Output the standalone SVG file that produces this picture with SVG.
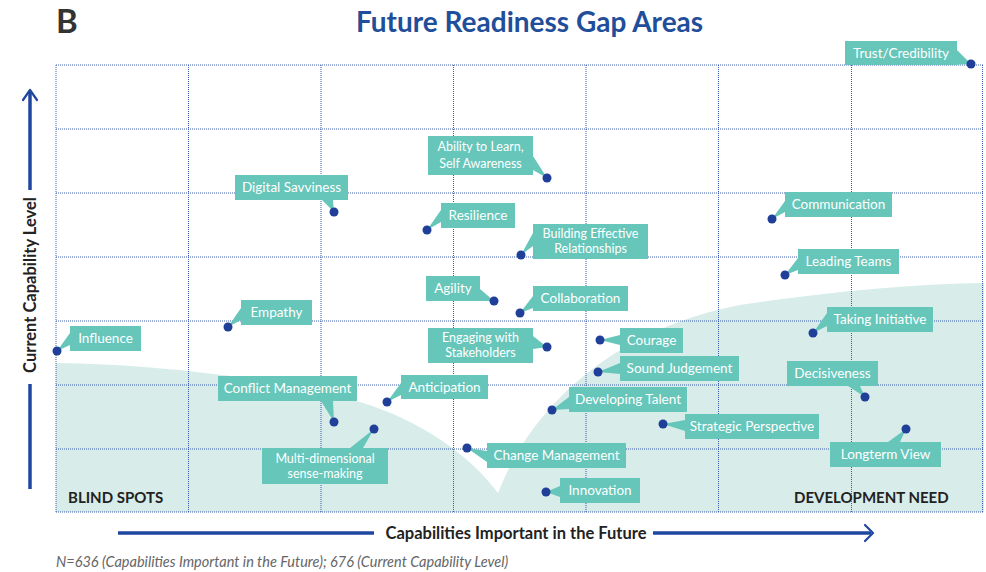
<svg xmlns="http://www.w3.org/2000/svg" width="986" height="572" viewBox="0 0 986 572">
<style>
  .grid line { stroke: #3b5cae; stroke-width: 1; stroke-dasharray: 1 1; }
  .box { fill: #66c6ba; }
  .ptr { fill: #66c6ba; }
  .lt { fill: #ffffff; font-family: Lato, "Open Sans", sans-serif; font-size: 13.5px; text-anchor: middle; }
  .lt2 { fill: #ffffff; font-family: Lato, "Open Sans", sans-serif; font-size: 12.5px; text-anchor: middle; }
  .dot { fill: #1f3f99; }
  .axis { stroke: #1f47a0; stroke-width: 3.5; fill: none; }
  .chev { stroke: #1f47a0; stroke-width: 2.2; fill: none; stroke-linecap: round; stroke-linejoin: round; }
  .axt { fill: #222; font-family: Lato, "Open Sans", sans-serif; font-weight: bold; font-size: 16.5px; }
  .zone { fill: #222; font-family: Lato, "Open Sans", sans-serif; font-weight: bold; font-size: 15px; }
</style>
<rect width="986" height="572" fill="#ffffff"/>
<text x="56" y="33" font-family="Lato, 'Open Sans', sans-serif" font-weight="bold" font-size="33" fill="#333">B</text>
<text x="529.5" y="32" font-family="Lato, 'Open Sans', sans-serif" font-weight="bold" font-size="28" fill="#1f4e9a" text-anchor="middle">Future Readiness Gap Areas</text>

<path d="M56,363 C150,364 280,378 360,402 C420,420 470,455 498,493 C530,410 610,330 740,305 C840,290 920,284 984,283 L984,512 L56,512 Z" fill="#d8ede9"/>

<g id="grid" class="grid">
  <line x1="56" y1="65" x2="983" y2="65"/>
  <line x1="56" y1="129" x2="983" y2="129"/>
  <line x1="56" y1="193" x2="983" y2="193"/>
  <line x1="56" y1="257" x2="983" y2="257"/>
  <line x1="56" y1="321" x2="983" y2="321"/>
  <line x1="56" y1="385" x2="983" y2="385"/>
  <line x1="56" y1="449" x2="983" y2="449"/>
  <line x1="56" y1="512" x2="983" y2="512"/>
  <line x1="56" y1="65" x2="56" y2="512"/>
  <line x1="188.5" y1="65" x2="188.5" y2="512"/>
  <line x1="321" y1="65" x2="321" y2="512"/>
  <line x1="453.5" y1="65" x2="453.5" y2="512"/>
  <line x1="586" y1="65" x2="586" y2="512"/>
  <line x1="718.5" y1="65" x2="718.5" y2="512"/>
  <line x1="851.5" y1="65" x2="851.5" y2="512"/>
  <line x1="982.5" y1="65" x2="982.5" y2="512"/>
</g>

<text class="zone" x="68" y="503">BLIND SPOTS</text>
<text class="zone" x="794" y="503">DEVELOPMENT NEED</text>

<g id="axes">
  <line class="axis" x1="30" y1="91" x2="30" y2="190"/>
  <line class="axis" x1="30" y1="384" x2="30" y2="489"/>
  <polyline class="chev" points="23,100 30,90 37,100"/>
  <text class="axt" transform="translate(36,285) rotate(-90)" text-anchor="middle">Current Capability Level</text>
  <line class="axis" x1="118" y1="533" x2="374" y2="533"/>
  <line class="axis" x1="653" y1="533" x2="871" y2="533"/>
  <polyline class="chev" points="865,525 873,533 865,541"/>
  <text class="axt" x="516" y="539" text-anchor="middle">Capabilities Important in the Future</text>
</g>

<g id="connectors">
  <polygon class="ptr" points="952,65 957,50 971,64"/>
  <polygon class="ptr" points="785,201 785,212 772,219"/>
  <polygon class="ptr" points="533,156 533,170 547,178"/>
  <polygon class="ptr" points="441,210 441,222 427,230"/>
  <polygon class="ptr" points="533,233 533,246 521,255"/>
  <polygon class="ptr" points="476,301 480,289 494,301"/>
  <polygon class="ptr" points="533,296 533,308 520,313"/>
  <polygon class="ptr" points="322,200 333,200 334,212"/>
  <polygon class="ptr" points="241,308 241,320 228,327"/>
  <polygon class="ptr" points="70,333 70,345 57,351"/>
  <polygon class="ptr" points="533,336 533,349 547,347"/>
  <polygon class="ptr" points="620,335 620,345 600,340"/>
  <polygon class="ptr" points="620,363 620,374 598,372"/>
  <polygon class="ptr" points="321,401 333,401 334,422"/>
  <polygon class="ptr" points="401,383 401,395 387,402"/>
  <polygon class="ptr" points="350,448 363,448 374,429"/>
  <polygon class="ptr" points="487,451 487,462 467,448"/>
  <polygon class="ptr" points="569,397 569,409 552,410"/>
  <polygon class="ptr" points="685,420 685,431 663,424"/>
  <polygon class="ptr" points="560,486 560,497 546,492"/>
  <polygon class="ptr" points="798,258 798,270 785,275"/>
  <polygon class="ptr" points="827,313 827,326 813,333"/>
  <polygon class="ptr" points="848,386 860,386 865,397"/>
  <polygon class="ptr" points="888,442 900,442 906,429"/>
</g>

<g id="n-trust"><rect class="box" x="845" y="41" width="112" height="24"/><text class="lt" x="901" y="58">Trust/Credibility</text><circle class="dot" cx="971" cy="64" r="4.5"/></g>
<g id="n-communication"><rect class="box" x="785" y="192" width="107" height="25"/><text class="lt" x="838.5" y="209">Communication</text><circle class="dot" cx="772" cy="219" r="4.5"/></g>
<g id="n-ability"><rect class="box" x="428" y="136" width="105" height="39"/><text class="lt2" x="480.5" y="151">Ability to Learn,</text><text class="lt2" x="480.5" y="167.5">Self Awareness</text><circle class="dot" cx="547" cy="178" r="4.5"/></g>
<g id="n-resilience"><rect class="box" x="441" y="203" width="74" height="25"/><text class="lt" x="478" y="220">Resilience</text><circle class="dot" cx="427" cy="230" r="4.5"/></g>
<g id="n-building"><rect class="box" x="533" y="224" width="115" height="35"/><text class="lt2" x="590.5" y="237.5">Building Effective</text><text class="lt2" x="590.5" y="252.5">Relationships</text><circle class="dot" cx="521" cy="255" r="4.5"/></g>
<g id="n-agility"><rect class="box" x="426" y="276" width="54" height="25"/><text class="lt" x="453" y="293">Agility</text><circle class="dot" cx="494" cy="301" r="4.5"/></g>
<g id="n-collaboration"><rect class="box" x="533" y="286" width="95" height="25"/><text class="lt" x="580.5" y="303">Collaboration</text><circle class="dot" cx="520" cy="313" r="4.5"/></g>
<g id="n-digital"><rect class="box" x="235" y="175" width="113" height="25"/><text class="lt" x="291.5" y="192">Digital Savviness</text><circle class="dot" cx="334" cy="212" r="4.5"/></g>
<g id="n-empathy"><rect class="box" x="241" y="300" width="71" height="25"/><text class="lt" x="276.5" y="317">Empathy</text><circle class="dot" cx="228" cy="327" r="4.5"/></g>
<g id="n-influence"><rect class="box" x="70" y="326" width="71" height="25"/><text class="lt" x="105.5" y="343">Influence</text><circle class="dot" cx="57" cy="351" r="4.5"/></g>
<g id="n-engaging"><rect class="box" x="428" y="328" width="105" height="35"/><text class="lt2" x="480.5" y="341.5">Engaging with</text><text class="lt2" x="480.5" y="356.5">Stakeholders</text><circle class="dot" cx="547" cy="347" r="4.5"/></g>
<g id="n-courage"><rect class="box" x="620" y="328" width="63" height="25"/><text class="lt" x="651.5" y="345">Courage</text><circle class="dot" cx="600" cy="340" r="4.5"/></g>
<g id="n-sound"><rect class="box" x="620" y="356" width="119" height="25"/><text class="lt" x="679.5" y="373">Sound Judgement</text><circle class="dot" cx="598" cy="372" r="4.5"/></g>
<g id="n-conflict"><rect class="box" x="218" y="376" width="139" height="25"/><text class="lt" x="287.5" y="393">Conflict Management</text><circle class="dot" cx="334" cy="422" r="4.5"/></g>
<g id="n-anticipation"><rect class="box" x="401" y="375" width="87" height="24"/><text class="lt" x="444.5" y="392">Anticipation</text><circle class="dot" cx="387" cy="402" r="4.5"/></g>
<g id="n-multi"><rect class="box" x="262" y="448" width="126" height="36"/><text class="lt2" x="325" y="462.5">Multi-dimensional</text><text class="lt2" x="325" y="477.5">sense-making</text><circle class="dot" cx="374" cy="429" r="4.5"/></g>
<g id="n-change"><rect class="box" x="487" y="443" width="139" height="25"/><text class="lt" x="556.5" y="460">Change Management</text><circle class="dot" cx="467" cy="448" r="4.5"/></g>
<g id="n-developing"><rect class="box" x="569" y="387" width="118" height="25"/><text class="lt" x="628" y="404">Developing Talent</text><circle class="dot" cx="552" cy="410" r="4.5"/></g>
<g id="n-strategic"><rect class="box" x="685" y="414" width="134" height="25"/><text class="lt" x="752" y="431">Strategic Perspective</text><circle class="dot" cx="663" cy="424" r="4.5"/></g>
<g id="n-innovation"><rect class="box" x="560" y="478" width="80" height="25"/><text class="lt" x="600" y="495">Innovation</text><circle class="dot" cx="546" cy="492" r="4.5"/></g>
<g id="n-leading"><rect class="box" x="798" y="249" width="101" height="25"/><text class="lt" x="848.5" y="266">Leading Teams</text><circle class="dot" cx="785" cy="275" r="4.5"/></g>
<g id="n-initiative"><rect class="box" x="827" y="307" width="106" height="25"/><text class="lt" x="880" y="324">Taking Initiative</text><circle class="dot" cx="813" cy="333" r="4.5"/></g>
<g id="n-decisiveness"><rect class="box" x="787" y="361" width="91" height="25"/><text class="lt" x="832.5" y="378">Decisiveness</text><circle class="dot" cx="865" cy="397" r="4.5"/></g>
<g id="n-longterm"><rect class="box" x="830" y="442" width="111" height="25"/><text class="lt" x="885.5" y="459">Longterm View</text><circle class="dot" cx="906" cy="429" r="4.5"/></g>

<text x="56" y="567" font-family="Lato, 'Open Sans', sans-serif" font-style="italic" font-size="14.5" fill="#666">N=636 (Capabilities Important in the Future); 676 (Current Capability Level)</text>
</svg>
